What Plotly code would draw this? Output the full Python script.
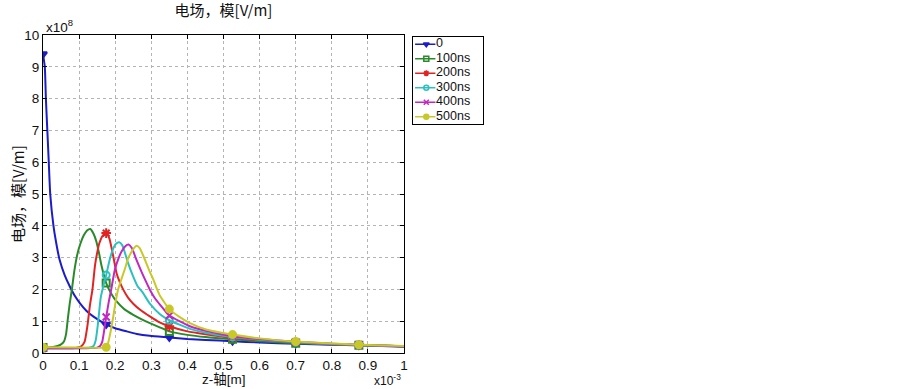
import plotly.graph_objects as go

# units: x in 1e-3 m, y in 1e8 V/m
series_names = ["0", "100ns", "200ns", "300ns", "400ns", "500ns"]
marker_x = [0, 0.175, 0.35, 0.525, 0.7, 0.875]

x_0 = [0, 0.005, 0.008, 0.012, 0.016, 0.02, 0.029, 0.036, 0.046, 0.06, 0.074, 0.088, 0.102, 0.12, 0.139, 0.175, 0.2, 0.232, 0.26, 0.296, 0.35, 0.4, 0.45, 0.525, 0.6, 0.7, 0.8, 0.875, 1.0]
y_0 = [9.4, 9.0, 8.0, 7.0, 6.0, 5.0, 4.0, 3.5, 2.93, 2.45, 2.1, 1.8, 1.57, 1.33, 1.15, 0.9, 0.78, 0.68, 0.6, 0.54, 0.49, 0.44, 0.41, 0.37, 0.33, 0.29, 0.26, 0.24, 0.2]

x_100 = [0, 0.02, 0.04, 0.05, 0.058, 0.064, 0.069, 0.074, 0.08, 0.087, 0.095, 0.104, 0.113, 0.122, 0.131, 0.14, 0.148, 0.155, 0.162, 0.175, 0.19, 0.204, 0.225, 0.25, 0.275, 0.296, 0.325, 0.35, 0.4, 0.45, 0.525, 0.6, 0.7, 0.8, 0.875, 1.0]
y_100 = [0.17, 0.18, 0.22, 0.27, 0.36, 0.6, 1.1, 1.55, 2.0, 2.6, 3.1, 3.45, 3.7, 3.85, 3.9, 3.75, 3.5, 3.15, 2.75, 2.2, 1.85, 1.62, 1.38, 1.2, 1.05, 0.94, 0.8, 0.68, 0.57, 0.5, 0.43, 0.37, 0.31, 0.27, 0.24, 0.21]

x_200 = [0, 0.06, 0.09, 0.105, 0.115, 0.123, 0.13, 0.137, 0.144, 0.15, 0.156, 0.166, 0.175, 0.184, 0.19, 0.197, 0.204, 0.213, 0.222, 0.235, 0.25, 0.27, 0.296, 0.32, 0.35, 0.4, 0.45, 0.525, 0.6, 0.7, 0.8, 0.875, 1.0]
y_200 = [0.15, 0.15, 0.16, 0.2, 0.35, 0.85, 1.5, 2.0, 2.75, 3.15, 3.45, 3.7, 3.77, 3.6, 3.3, 2.9, 2.5, 2.22, 2.0, 1.75, 1.55, 1.35, 1.15, 0.98, 0.84, 0.68, 0.59, 0.48, 0.41, 0.34, 0.28, 0.25, 0.21]

x_300 = [0, 0.1, 0.13, 0.14, 0.146, 0.152, 0.16, 0.167, 0.175, 0.185, 0.195, 0.203, 0.211, 0.219, 0.227, 0.235, 0.25, 0.262, 0.275, 0.296, 0.324, 0.35, 0.407, 0.45, 0.525, 0.6, 0.7, 0.8, 0.875, 1.0]
y_300 = [0.15, 0.15, 0.17, 0.22, 0.4, 0.9, 1.75, 2.1, 2.45, 2.95, 3.3, 3.44, 3.48, 3.4, 3.15, 2.85, 2.4, 2.1, 1.92, 1.55, 1.22, 1.03, 0.76, 0.64, 0.5, 0.42, 0.34, 0.28, 0.25, 0.21]

x_400 = [0, 0.12, 0.15, 0.158, 0.164, 0.17, 0.175, 0.182, 0.189, 0.199, 0.21, 0.218, 0.228, 0.237, 0.246, 0.259, 0.273, 0.285, 0.296, 0.31, 0.324, 0.35, 0.407, 0.45, 0.525, 0.6, 0.7, 0.8, 0.875, 1.0]
y_400 = [0.15, 0.15, 0.17, 0.22, 0.35, 0.75, 1.13, 1.6, 2.0, 2.62, 3.0, 3.2, 3.36, 3.41, 3.3, 2.93, 2.55, 2.25, 1.99, 1.72, 1.52, 1.18, 0.84, 0.7, 0.53, 0.44, 0.35, 0.29, 0.26, 0.21]

x_500 = [0, 0.1, 0.175, 0.18, 0.186, 0.194, 0.201, 0.208, 0.218, 0.227, 0.235, 0.243, 0.252, 0.259, 0.268, 0.278, 0.287, 0.296, 0.306, 0.315, 0.324, 0.35, 0.38, 0.407, 0.454, 0.525, 0.6, 0.7, 0.8, 0.875, 1.0]
y_500 = [0.18, 0.17, 0.18, 0.3, 0.6, 1.1, 1.6, 2.0, 2.35, 2.65, 2.95, 3.14, 3.3, 3.37, 3.3, 3.05, 2.8, 2.55, 2.3, 2.03, 1.8, 1.38, 1.12, 0.94, 0.73, 0.58, 0.46, 0.36, 0.3, 0.26, 0.22]

x_ticks = [0, 0.1, 0.2, 0.3, 0.4, 0.5, 0.6, 0.7, 0.8, 0.9, 1.0]
x_ticklabels = ["0", "0.1", "0.2", "0.3", "0.4", "0.5", "0.6", "0.7", "0.8", "0.9", "1"]
y_ticks = [0, 1, 2, 3, 4, 5, 6, 7, 8, 9, 10]
y_ticklabels = ["0", "1", "2", "3", "4", "5", "6", "7", "8", "9", "10"]

xs = [x_0, x_100, x_200, x_300, x_400, x_500]
ys = [y_0, y_100, y_200, y_300, y_400, y_500]
colors = ["#1c1cc8", "#2a8a2a", "#e02424", "#2cc0c0", "#c028c0", "#c8c828"]
symbols = ["triangle-down", "square-open", "asterisk-open", "circle-open", "x-thin-open", "circle"]
msizes = [7, 7, 8, 7, 7, 7]

FONT = "Noto Sans CJK SC, Noto Sans, sans-serif"
NUMFONT = "Liberation Sans, Arial, sans-serif"
MIXFONT = "Liberation Sans, Noto Sans CJK SC, sans-serif"
TXT = "#111111"

# layout geometry (pixels)
W, H = 903, 389
L, T, B = 43, 35, 36
PLOT_R = 404          # right edge of the main plot
LEG_L, LEG_R = 413, 483
LEG_T, LEG_B = 37, 124
R = W - LEG_R
paper_w = LEG_R - L
paper_h = H - T - B

fig = go.Figure()
for name, xv, yv, c, s, ms in zip(series_names, xs, ys, colors, symbols, msizes):
    fig.add_trace(go.Scatter(x=xv, y=yv, mode="lines", line=dict(color=c, width=2, shape="spline", smoothing=0.5),
                             showlegend=False, name=name))
    mx = [a for a in xv if a in marker_x]
    my = [b for a, b in zip(xv, yv) if a in marker_x]
    fig.add_trace(go.Scatter(x=mx, y=my, mode="markers", name=name,
                             marker=dict(symbol=s, size=ms, color=c, line=dict(color=c, width=2)),
                             showlegend=False))

# compact legend drawn on its own small axes
rows = list(range(len(series_names)))
for i, (name, c, s) in enumerate(zip(series_names, colors, symbols)):
    fig.add_trace(go.Scatter(x=[0.03, 0.32], y=[i, i], mode="lines", line=dict(color=c, width=1.5),
                             xaxis="x2", yaxis="y2", showlegend=False, hoverinfo="skip"))
    fig.add_trace(go.Scatter(x=[0.19], y=[i], mode="markers", xaxis="x2", yaxis="y2",
                             marker=dict(symbol=s, size=5, color=c, line=dict(color=c, width=1.5)),
                             showlegend=False, hoverinfo="skip"))
fig.add_trace(go.Scatter(x=[0.33] * len(rows), y=rows, mode="text", text=series_names,
                         textposition="middle right", xaxis="x2", yaxis="y2",
                         textfont=dict(family=NUMFONT, size=12.5, color=TXT), showlegend=False, hoverinfo="skip"))

axis_common = dict(showline=True, linecolor="black", linewidth=1, mirror="ticks",
                   ticks="inside", ticklen=4, tickcolor="black",
                   showgrid=True, gridcolor="#b4b4b4", griddash="dot", gridwidth=1,
                   zeroline=False, tickfont=dict(family=NUMFONT, size=13.5, color=TXT))

fig.update_layout(
    width=W, height=H,
    margin=dict(l=L, r=R, t=T, b=B),
    paper_bgcolor="white", plot_bgcolor="white",
    title=dict(text="电场，模[V/m]", x=(L + PLOT_R) / 2 / W, xanchor="center", y=1 - 11 / H, yanchor="middle",
               font=dict(family=FONT, size=15, color=TXT)),
    xaxis=dict(domain=[0, (PLOT_R - L) / paper_w], range=[0, 1], tickvals=x_ticks, ticktext=x_ticklabels,
               **axis_common),
    yaxis=dict(range=[0, 10], tickvals=y_ticks, ticktext=y_ticklabels, **axis_common),
    xaxis2=dict(domain=[(LEG_L - L) / paper_w, 1], range=[0, 1], anchor="y2", showline=True, mirror=True,
                linecolor="black", linewidth=1, showgrid=False, zeroline=False, showticklabels=False,
                ticks="", fixedrange=True),
    yaxis2=dict(domain=[(H - B - LEG_B) / paper_h, (H - B - LEG_T) / paper_h], range=[len(rows) - 0.5, -0.5],
                anchor="x2", showline=True, mirror=True, linecolor="black", linewidth=1, showgrid=False,
                zeroline=False, showticklabels=False, ticks="", fixedrange=True),
    showlegend=False,
    annotations=[
        dict(text="x10<sup>8</sup>", x=0, y=1, xref="paper", yref="paper", xanchor="left", yanchor="bottom",
             xshift=1, yshift=-2, showarrow=False, font=dict(family=NUMFONT, size=13.5, color=TXT)),
        dict(text="x10<sup>-3</sup>", x=(PLOT_R - L) / paper_w, y=0, xref="paper", yref="paper",
             xanchor="right", yanchor="top", xshift=-1, yshift=-17, showarrow=False,
             font=dict(family=NUMFONT, size=12, color=TXT)),
        dict(text="z-轴[m]", x=(PLOT_R - L) / paper_w / 2, y=0, xref="paper", yref="paper", xanchor="center",
             yanchor="top", yshift=-17, showarrow=False, font=dict(family=MIXFONT, size=13.5, color=TXT)),
        dict(text="电场，模[V/m]", x=0, y=0.5, xref="paper", yref="paper", xanchor="center", yanchor="middle",
             xshift=-26, textangle=-90, showarrow=False, font=dict(family=FONT, size=15, color=TXT)),
    ],
)

fig.write_html("out.html", config={"displayModeBar": False},
               post_script="document.body.style.margin='0';")
